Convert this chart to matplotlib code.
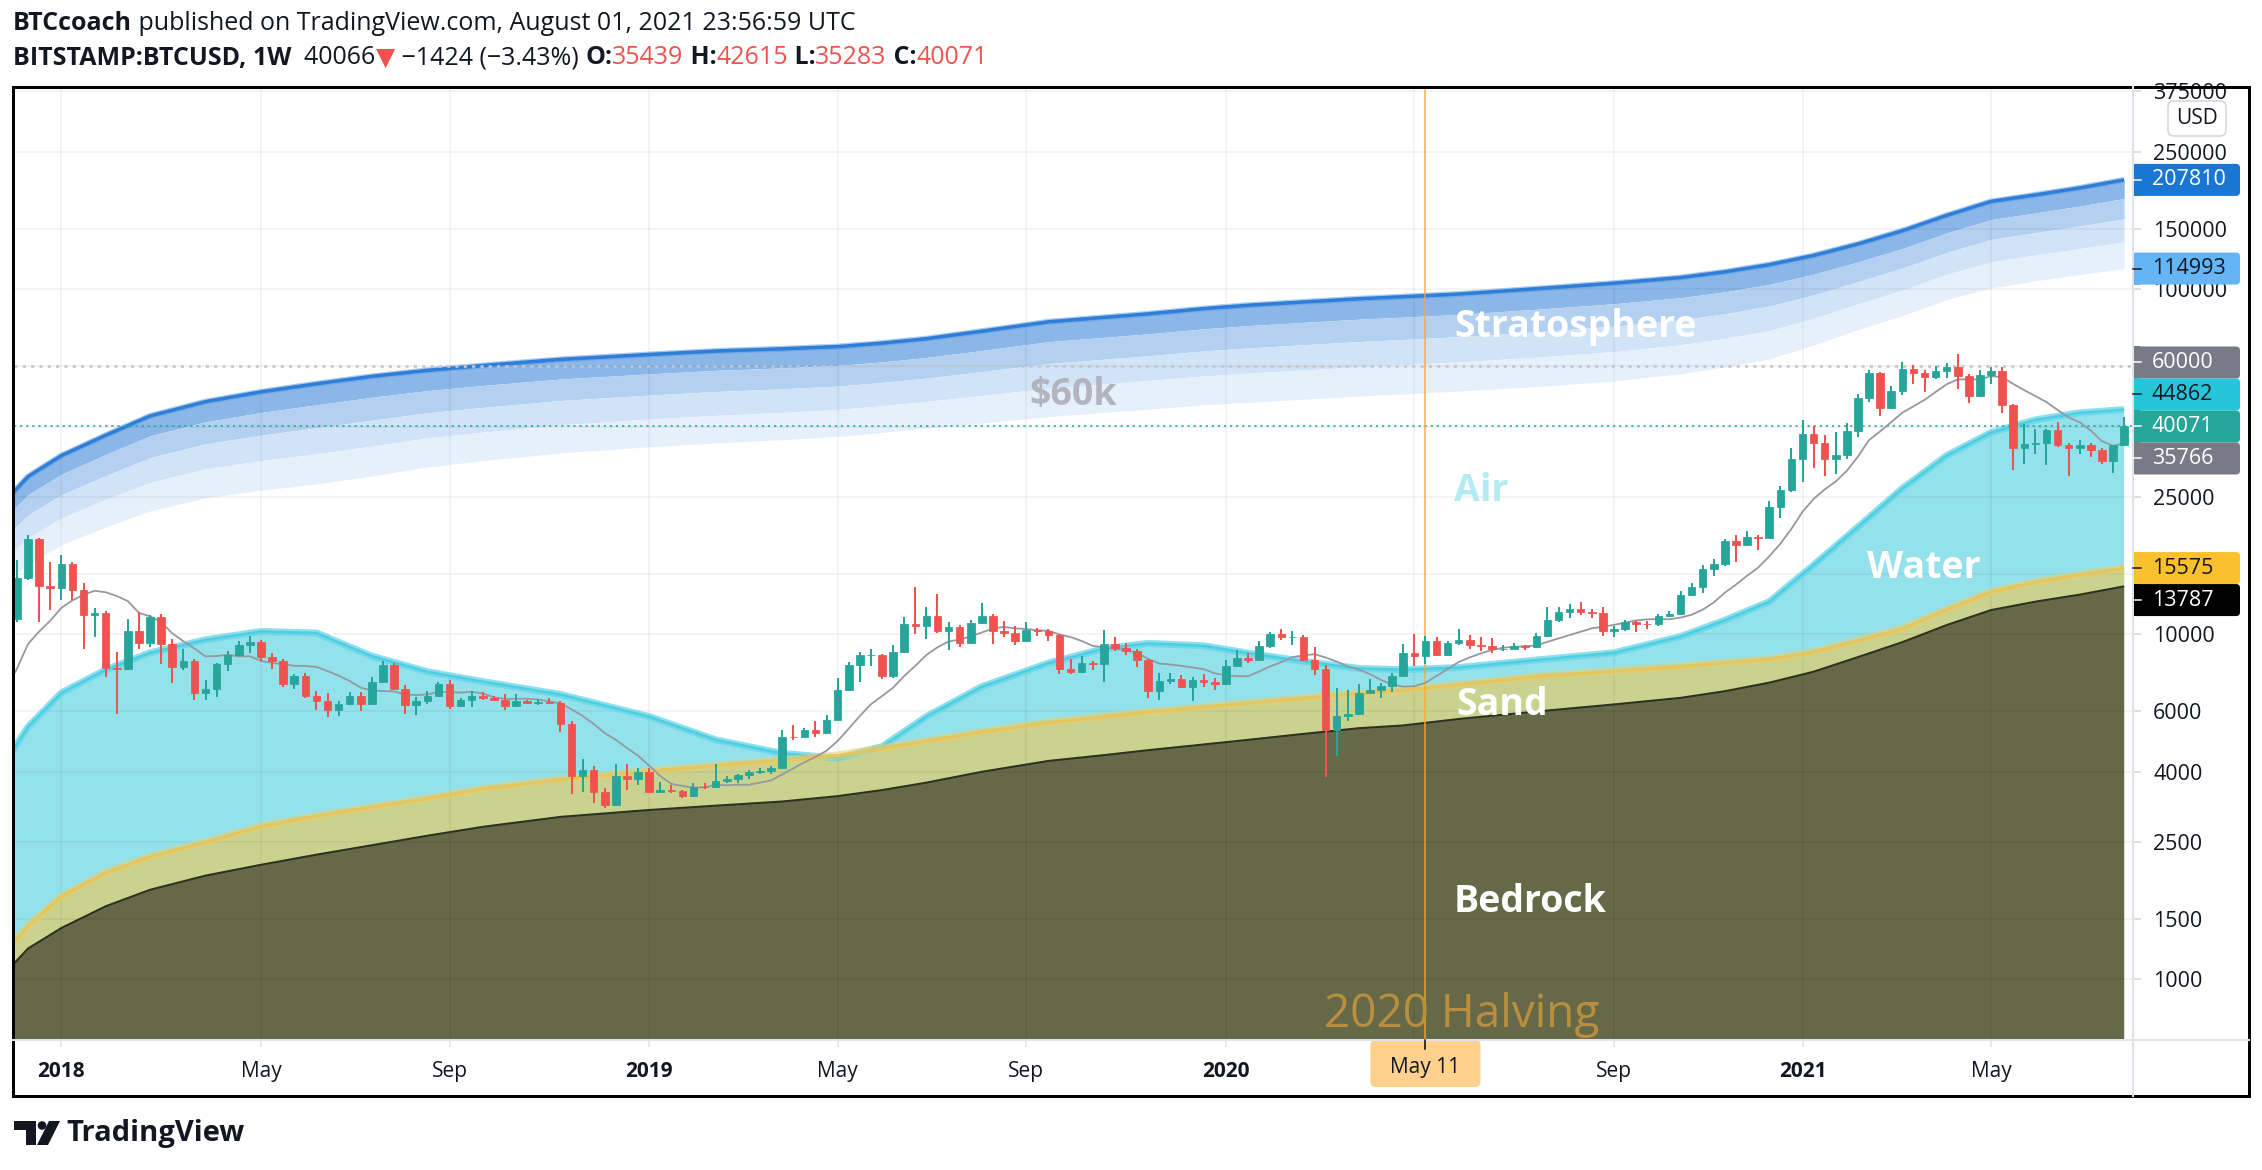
import numpy as np
import matplotlib
matplotlib.use("Agg")
import matplotlib.pyplot as plt
from matplotlib.patches import Rectangle, FancyBboxPatch, Circle, Polygon
from matplotlib.lines import Line2D
from matplotlib.transforms import IdentityTransform

plt.rcParams['font.family'] = ['Open Sans', 'DejaVu Sans']

# ---------------------------------------------------------------- data
start_date = "2017-12-04"          # first weekly bar shown (Monday)

opens = [11100, 14600, 18900, 13800, 13600, 16000, 13500, 11350, 11550, 8000,
         7950, 10250, 9450, 11250, 9400, 8050, 8350, 6750, 6950, 8200,
         8700, 9300, 9500, 8600, 8350, 7200, 7600, 6650, 6400, 6050,
         6300, 6650, 6300, 7300, 8150, 6950, 6250, 6400, 6650, 7200,
         6200, 6450, 6650, 6550, 6450, 6200, 6400, 6330, 6380, 6320,
         5500, 3900, 4050, 3500, 3200, 3900, 3800, 4000, 3500, 3530,
         3510, 3400, 3620, 3610, 3760, 3820, 3920, 4000, 4010, 4100,
         5050, 5030, 5280, 5180, 5650, 6900, 8150, 8700, 8730, 7600,
         8900, 10700, 10600, 11300, 10200, 10500, 9450, 10800, 11300, 10250,
         10100, 9600, 10300, 10250, 9950, 7950, 7800, 8250, 8200, 9400,
         9150, 8950, 8450, 6850, 7350, 7450, 7050, 7400, 7300, 7200,
         8100, 8550, 8450, 9250, 10050, 9800, 9850, 8450, 7950, 5300,
         5800, 5900, 6750, 6900, 7100, 7600, 8850, 8650, 9550, 8700,
         9450, 9650, 9350, 9250, 9050, 9080, 9250, 9180, 9900, 11050,
         11650, 11850, 11600, 11550, 10200, 10350, 10900, 10750, 10700, 11300,
         11500, 13050, 13750, 15500, 16050, 18700, 18200, 19150, 19100, 23450,
         26250, 32200, 38150, 35800, 32250, 33100, 38900, 48600, 57400, 45200,
         50900, 59000, 57400, 55800, 58200, 59800, 56200, 49100, 56600, 58200,
         46400, 34700, 35751, 35800, 39100, 35500, 34700, 35300, 34200, 31800,
         35439]
highs = [16400, 19400, 19100, 16200, 17000, 16200, 14100, 11900, 11700, 8900,
         11100, 11600, 11400, 11450, 9700, 9050, 8500, 7400, 8250, 8950,
         9600, 9900, 9650, 8850, 8500, 7700, 7750, 6850, 6750, 6400,
         6800, 6800, 7550, 8400, 8250, 7150, 6600, 6850, 7300, 7400,
         6550, 6850, 6800, 6650, 6700, 6700, 6450, 6480, 6550, 6400,
         5600, 4350, 4150, 3600, 4200, 4200, 4100, 4100, 3730, 3650,
         3550, 3700, 3700, 4200, 3900, 3950, 4050, 4100, 4150, 5300,
         5450, 5350, 5600, 5850, 7500, 8300, 8900, 9050, 8800, 9300,
         11200, 13700, 12000, 13100, 10900, 10650, 11050, 12300, 11450, 10950,
         10600, 10900, 10450, 10350, 10050, 8500, 8650, 8400, 10300, 9800,
         9450, 9100, 8500, 7750, 7750, 7650, 7550, 7700, 7500, 8450,
         9000, 8850, 9600, 10150, 10400, 10250, 9950, 9200, 8150, 7000,
         6900, 7200, 7450, 7250, 7750, 9400, 10000, 9900, 9850, 9600,
         10400, 9950, 9800, 9750, 9300, 9450, 9300, 10100, 12000, 12000,
         12250, 12450, 11850, 12050, 10600, 11050, 10950, 10950, 11500, 11700,
         13350, 14100, 15950, 16500, 18950, 19450, 19900, 19400, 24300, 27000,
         34800, 41900, 40100, 37800, 38500, 40900, 49700, 58350, 57500, 52500,
         61700, 60600, 58400, 60000, 61300, 64900, 57000, 58400, 59600, 59600,
         46600, 40800, 39400, 39500, 41300, 36000, 36600, 35900, 34700, 35500,
         42615]
lows = [10900, 14400, 10900, 11800, 12600, 12600, 9050, 9800, 7550, 5900,
        7900, 9100, 9200, 8200, 7250, 7900, 6450, 6450, 6600, 7850,
        8650, 8850, 8350, 7950, 7050, 6950, 6550, 6050, 5750, 5800,
        6250, 6000, 6250, 7250, 6900, 5900, 5850, 6300, 6650, 6100,
        6150, 6150, 6450, 6450, 6050, 6150, 6350, 6250, 6300, 5200,
        3450, 3500, 3250, 3150, 3200, 3550, 3650, 3480, 3460, 3460,
        3360, 3380, 3560, 3600, 3700, 3700, 3800, 3950, 3950, 4100,
        4950, 5000, 5050, 5150, 5650, 6850, 7300, 8100, 7450, 7500,
        8850, 10000, 9700, 10100, 9000, 9200, 9400, 10700, 9400, 9800,
        9350, 9550, 9900, 9600, 7700, 7700, 7750, 7900, 7300, 8950,
        8700, 8050, 6550, 6450, 7200, 7000, 6400, 7050, 6900, 7150,
        8050, 8250, 8400, 9150, 9650, 9300, 8400, 7650, 3850, 4450,
        5600, 5850, 6700, 6550, 6800, 7550, 8100, 8200, 8650, 8650,
        9300, 9100, 8950, 8850, 8950, 9050, 9000, 9150, 9850, 10900,
        11150, 11400, 11150, 9900, 9850, 10200, 10150, 10400, 10550, 11200,
        11400, 12900, 13200, 14800, 15800, 16200, 18100, 17600, 19000, 21800,
        25900, 27700, 30400, 28800, 29200, 32300, 37400, 47100, 43000, 44900,
        49300, 53100, 50400, 55000, 55500, 51300, 47000, 48800, 53100, 43900,
        30000, 31200, 33400, 31000, 34900, 28800, 33300, 32700, 31100, 29300,
        35283]
closes = [14600, 18900, 13800, 13600, 16000, 13500, 11350, 11550, 8000, 7950,
          10250, 9450, 11250, 9400, 8050, 8350, 6750, 6950, 8200, 8700,
          9300, 9500, 8600, 8350, 7200, 7600, 6650, 6400, 6050, 6300,
          6650, 6300, 7300, 8150, 6950, 6250, 6400, 6650, 7200, 6200,
          6450, 6650, 6550, 6450, 6200, 6400, 6330, 6380, 6320, 5500,
          3900, 4050, 3500, 3200, 3900, 3800, 4000, 3500, 3530, 3510,
          3400, 3620, 3610, 3760, 3820, 3920, 4000, 4010, 4100, 5050,
          5030, 5280, 5180, 5650, 6900, 8150, 8700, 8730, 7600, 8900,
          10700, 10600, 11300, 10200, 10500, 9450, 10800, 11300, 10250, 10100,
          9600, 10300, 10250, 9950, 7950, 7800, 8250, 8200, 9400, 9150,
          8950, 8450, 6850, 7350, 7450, 7050, 7400, 7300, 7200, 8100,
          8550, 8450, 9250, 10050, 9800, 9850, 8450, 7950, 5300, 5800,
          5900, 6750, 6900, 7100, 7600, 8850, 8650, 9550, 8700, 9450,
          9650, 9350, 9250, 9050, 9080, 9250, 9180, 9900, 11050, 11650,
          11850, 11600, 11550, 10200, 10350, 10900, 10750, 10700, 11300, 11500,
          13050, 13750, 15500, 16050, 18700, 18200, 19150, 19100, 23450, 26250,
          32200, 38150, 35800, 32250, 33100, 38900, 48600, 57400, 45200, 50900,
          59000, 57400, 55800, 58200, 59800, 56200, 49100, 56600, 58200, 46400,
          34700, 35751, 35800, 39100, 35500, 34700, 35300, 34200, 31800, 35439,
          40071]
warmup_closes = [4400, 4600, 5700, 6000, 6150, 7400, 6550, 8050, 9300, 11250]
ma_length = 10

band_weeks = [-1, 1, 4, 8, 12, 17, 22, 27, 32, 37, 42, 49, 57, 63, 69, 74, 78,
              82, 87, 93, 98, 102, 107, 111, 116, 121, 125, 130, 137, 144, 150,
              154, 158, 162, 166, 170, 174, 178, 182, 186, 190]
bedrock_line = [1050, 1230, 1410, 1630, 1820, 2000, 2150, 2300, 2450, 2610, 2770,
                2960, 3100, 3190, 3280, 3400, 3540, 3720, 4000, 4300, 4470, 4620,
                4800, 4950, 5150, 5350, 5450, 5690, 5980, 6270, 6550, 6850, 7250,
                7800, 8600, 9500, 10650, 11770, 12450, 13050, 13787]
sand_line = [1200, 1430, 1740, 2040, 2270, 2500, 2780, 2980, 3160, 3350, 3570,
             3800, 4020, 4170, 4320, 4460, 4680, 4910, 5220, 5560, 5780, 5960,
             6160, 6330, 6540, 6760, 6900, 7150, 7560, 7830, 8080, 8280, 8470,
             8900, 9600, 10400, 11800, 13290, 14200, 14900, 15575]
water_line = [4300, 5400, 6770, 7900, 8850, 9650, 10200, 10100, 8650, 7800, 7300,
              6700, 5780, 4950, 4520, 4380, 4730, 5780, 7060, 8260, 9100, 9420,
              9270, 8830, 8360, 7970, 7900, 8020, 8430, 8850, 9860, 11000, 12440,
              15900, 20500, 26500, 33000, 38500, 41900, 43900, 44862]
strat_top = [24500, 28700, 33000, 37800, 43000, 47300, 50500, 53300, 56000, 58300,
             60200, 62700, 64800, 66300, 67300, 68300, 69900, 72000, 75700, 80600,
             83000, 85000, 88000, 90000, 92000, 94000, 95300, 97000, 100500,
             104300, 108300, 112500, 118000, 125500, 135500, 148000, 164000,
             180000, 188000, 197000, 207810]
strat_bottom = [14200, 16000, 18200, 20500, 22800, 24900, 26200, 27300, 28800,
                30600, 31900, 33600, 35000, 35900, 36700, 37500, 38500, 39600,
                41000, 42800, 44000, 45000, 46300, 47100, 48100, 49100, 49800,
                50800, 52300, 54300, 57000, 59600, 62900, 69000, 76500, 84000,
                93500, 101000, 106000, 110500, 114993]
level_60k = 60000

price_ticks = [1000, 1500, 2500, 4000, 6000, 10000, 15000, 25000, 40000, 60000,
               100000, 150000, 250000, 375000]
time_tick_dates = ["2018-01-01", "2018-05-07", "2018-09-03", "2019-01-07",
                   "2019-05-06", "2019-09-02", "2020-01-06", "2020-05-04",
                   "2020-09-07", "2021-01-04", "2021-05-03"]
time_tick_labels = ["2018", "May", "Sep", "2019", "May", "Sep", "2020", "",
                    "Sep", "2021", "May"]
halving_date = "2020-05-11"
halving_label = "May 11"

DARK = "#131722"
RED = "#ef5350"
GREEN = "#26a69a"
header_line1 = [("BTCcoach", "bold", DARK),
                (" published on TradingView.com, August 01, 2021 23:56:59 UTC", "normal", DARK)]
header_line2 = [("BITSTAMP:BTCUSD, 1W", "bold", DARK), ("  40066", "normal", DARK),
                ("\u25BC", "normal", RED), (" \u22121424 (\u22123.43%) ", "normal", DARK),
                ("O:", "bold", DARK), ("35439", "normal", RED),
                (" H:", "bold", DARK), ("42615", "normal", RED),
                (" L:", "bold", DARK), ("35283", "normal", RED),
                (" C:", "bold", DARK), ("40071", "normal", RED)]

# ---------------------------------------------------------------- figure
W, H = 2262, 1170
DPI = 100
PX = 72.0 / DPI            # points per pixel
fig = plt.figure(figsize=(W / DPI, H / DPI), dpi=DPI)
fig.patch.set_facecolor("white")

AX_L, AX_R, AX_T, AX_B = 14, 2133, 88, 1040
ax = fig.add_axes([AX_L / W, 1 - AX_B / H, (AX_R - AX_L) / W, (AX_B - AX_T) / H])
ax.set_facecolor("white")
ax.set_yscale("log")
ax.set_ylim(667.6, 383700)
ax.set_xlim(-0.27, 190.8)
for s in ax.spines.values():
    s.set_visible(False)

t0 = np.datetime64(start_date)
def week_of(d):
    return (np.datetime64(d) - t0).astype(int) / 7.0

bw = np.array(band_weeks, float)
bed = np.array(bedrock_line, float)
sand = np.array(sand_line, float)
water = np.array(water_line, float)
stop = np.array(strat_top, float)
sbot = np.array(strat_bottom, float)

# layered ground fills
ax.fill_between(bw, 1, water, color="#93e2eb", lw=0, zorder=1.0)
ax.fill_between(bw, 1, sand, color="#c9d38f", lw=0, zorder=1.2)
ax.fill_between(bw, 1, bed, color="#656947", lw=0, zorder=1.4)

# stratosphere gradient bands
band_fracs = [0.0, 0.21, 0.44, 0.70, 1.0]
band_cols = ["#8ab6e8", "#b4d0f1", "#d1e3f7", "#e6f0fb"]
lt, lb = np.log10(stop), np.log10(sbot)
for k in range(4):
    e1 = 10 ** (lt + band_fracs[k] * (lb - lt))
    e2 = 10 ** (lt + band_fracs[k + 1] * (lb - lt))
    ax.fill_between(bw, e2, e1, color=band_cols[k], lw=0, zorder=1.0)

# grid
tick_weeks = [week_of(d) for d in time_tick_dates]
for v in price_ticks:
    ax.axhline(v, color="black", alpha=0.06, lw=1.5 * PX, zorder=1.6)
for wk in tick_weeks:
    ax.axvline(wk, color="black", alpha=0.06, lw=1.5 * PX, zorder=1.6)

# curve lines
ax.plot(bw, stop, color="#5d9be2", lw=6 * PX, alpha=0.5, zorder=2, solid_capstyle="butt")
ax.plot(bw, stop, color="#2f7fd8", lw=3.5 * PX, zorder=2.1, solid_capstyle="butt")
ax.plot(bw, water, color="#67d5e6", lw=7 * PX, alpha=0.75, zorder=2, solid_capstyle="butt")
ax.plot(bw, water, color="#4ccfe2", lw=2.5 * PX, zorder=2.1, solid_capstyle="butt")
ax.plot(bw, sand, color="#e6cf70", lw=8 * PX, alpha=0.55, zorder=2.2, solid_capstyle="butt")
ax.plot(bw, sand, color="#e8c55a", lw=3 * PX, zorder=2.3, solid_capstyle="butt")
ax.plot(bw, bed, color="#2e3020", lw=2 * PX, zorder=2.4, solid_capstyle="butt")

# horizontal levels
ax.axhline(level_60k, color="#c3c6cc", lw=2.6 * PX, dashes=(1.2, 2.0), zorder=3)
ax.axhline(closes[-1], color=GREEN, lw=1.6 * PX, dashes=(1.4, 2.4), zorder=3)

# halving line
hw = week_of(halving_date)
ax.axvline(hw, color="#ffa726", lw=1.6 * PX, alpha=0.85, zorder=3)

# moving average
allc = np.array(warmup_closes + closes, float)
ma = np.convolve(allc, np.ones(ma_length) / ma_length, mode="valid")
ma_x = np.arange(len(ma)) - (len(ma) - len(closes))
ax.plot(ma_x, ma, color="#9598a1", lw=1.8 * PX, zorder=4)

# candles
x = np.arange(len(closes))
O, Hh, L, C = (np.array(a, float) for a in (opens, highs, lows, closes))
cols = np.where(C >= O, GREEN, RED)
ax.vlines(x, L, Hh, colors=cols, lw=2.0 * PX, zorder=5)
ax.bar(x, np.abs(C - O), bottom=np.minimum(O, C), width=0.68, color=cols,
       edgecolor=cols, linewidth=0.8 * PX, zorder=5.1)

# ---------------------------------------------------------------- pixel helpers
def ptext(xp, yp, s, **kw):
    return fig.text(xp / W, 1 - yp / H, s, **kw)

def pline(xs, ys, **kw):
    fig.add_artist(Line2D(xs, [H - y for y in ys], transform=IdentityTransform(), **kw))

def pbox(x0, y0, w, h, r, **kw):
    fig.add_artist(FancyBboxPatch((x0, H - y0 - h), w, h,
                                  boxstyle=f"round,pad=0,rounding_size={r}",
                                  transform=IdentityTransform(), **kw))

def ypix(v):
    return H - ax.transData.transform((0, v))[1]

# price labels on the scale, stacked to avoid overlap
ma_last = ma[-1]
price_labels = [(stop[-1], "#1976d2", "white"), (sbot[-1], "#64b5f6", DARK),
                (level_60k, "#787b86", "white"), (water[-1], "#26c6da", DARK),
                (closes[-1], GREEN, "white"), (ma_last, "#787b86", "white"),
                (sand[-1], "#fbc02d", DARK), (bed[-1], "#000000", "white")]
ys = [ypix(v) for v, _, _ in price_labels]
order = list(np.argsort(ys))
BH = 32
k = order.index(4)
pos = {order[k]: ys[order[k]]}
for j in range(k - 1, -1, -1):
    pos[order[j]] = min(ys[order[j]], pos[order[j + 1]] - BH)
for j in range(k + 1, len(order)):
    pos[order[j]] = max(ys[order[j]], pos[order[j - 1]] + BH)

# axes ticks (labels hidden where a value box covers them)
ax.yaxis.tick_right()
ax.set_yticks(price_ticks)
ylabels = []
for v in price_ticks:
    covered = any(abs(ypix(v) - pos[i]) < BH / 2 + 2 for i in pos)
    ylabels.append("" if covered else str(v))
ax.set_yticklabels(ylabels)
ax.yaxis.set_minor_locator(matplotlib.ticker.NullLocator())
ax.tick_params(axis="y", which="major", direction="out", length=8 * PX, width=1.5 * PX,
               color="#d1d4dc", labelsize=15.5, labelcolor=DARK, pad=12 * PX)
ax.set_xticks(tick_weeks)
ax.set_xticklabels(time_tick_labels)
ax.tick_params(axis="x", which="major", direction="out", length=7 * PX, width=1.5 * PX,
               color="#e0e3eb", labelsize=15, labelcolor=DARK, pad=14 * PX)
for lab in ax.get_xticklabels():
    if lab.get_text().isdigit():
        lab.set_fontweight("bold")

# zone labels (left x, baseline y)
ptext(1454, 337, "Stratosphere", color="white", fontsize=27, fontweight="bold", va="baseline")
ptext(1029, 405, "$60k", color="#b2b5be", fontsize=27, fontweight="bold", va="baseline")
ptext(1454, 501, "Air", color="#b2ebf2", fontsize=27, fontweight="bold", va="baseline")
ptext(1867, 578, "Water", color="white", fontsize=27, fontweight="bold", va="baseline")
ptext(1456, 715, "Sand", color="white", fontsize=27, fontweight="bold", va="baseline")
ptext(1454, 912, "Bedrock", color="white", fontsize=27, fontweight="bold", va="baseline")
ptext(1324, 1027, "2020 Halving", color="#b98f3f", fontsize=33, va="baseline")

# separators
pline([13, 2249], [1040, 1040], color="#e0e3eb", lw=2 * PX)
pline([2133, 2133], [87, 1096], color="#e0e3eb", lw=2 * PX)

# halving date label on time axis
hx = ax.transData.transform((hw, 1000))[0]
pbox(hx - 55, 1040, 110, 47, 5, facecolor="#ffd18c", edgecolor="none")
pline([hx, hx], [1040, 1049], color="black", lw=1.5 * PX)
ptext(hx, 1068, halving_label, color=DARK, fontsize=15, ha="center", va="center")

for i, (v, bg, fg) in enumerate(price_labels):
    yc = pos[i]
    pbox(2132, yc - BH / 2, 108, BH, 4, facecolor=bg, edgecolor="none")
    fig.add_artist(Rectangle((2132, H - yc - BH / 2), 8, BH, transform=IdentityTransform(),
                             facecolor=bg, edgecolor="none"))
    pline([2133, 2141], [yc, yc], color=fg, lw=1.5 * PX)
    ptext(2152, yc, f"{v:.0f}", color=fg, fontsize=15.5, va="center", ha="left")

# currency box
pbox(2168, 101, 58, 35, 6, facecolor="white", edgecolor="#d1d4dc", linewidth=1.5 * PX)
ptext(2197, 118.5, "USD", color=DARK, fontsize=15, ha="center", va="center")

fig.add_artist(Rectangle((13, H - 1096), 2236, 1009, transform=IdentityTransform(),
                         fill=False, edgecolor="black", linewidth=3 * PX))

# header
renderer = fig.canvas.get_renderer()
def segments(yp, segs, size=18):
    xp = 13
    for s, wgt, c in segs:
        t = ptext(xp, yp, s, color=c, fontsize=size, fontweight=wgt, va="center", ha="left")
        xp += t.get_window_extent(renderer).width
segments(23, header_line1)
segments(58, header_line2)

# TradingView logo
fig.add_artist(Polygon([(14, H - 1121), (36, H - 1121), (36, H - 1145), (26, H - 1145),
                        (26, H - 1130), (14, H - 1130)], closed=True,
                       transform=IdentityTransform(), facecolor=DARK, edgecolor="none"))
fig.add_artist(Circle((42, H - 1125.5), 4.3, transform=IdentityTransform(),
                      facecolor=DARK, edgecolor="none"))
fig.add_artist(Polygon([(49, H - 1121), (60, H - 1121), (48, H - 1145), (37, H - 1145)],
                       closed=True, transform=IdentityTransform(), facecolor=DARK,
                       edgecolor="none"))
ptext(66, 1133, "TradingView", color=DARK, fontsize=21, fontweight="bold", va="center")

fig.savefig("out.png", dpi=DPI)
